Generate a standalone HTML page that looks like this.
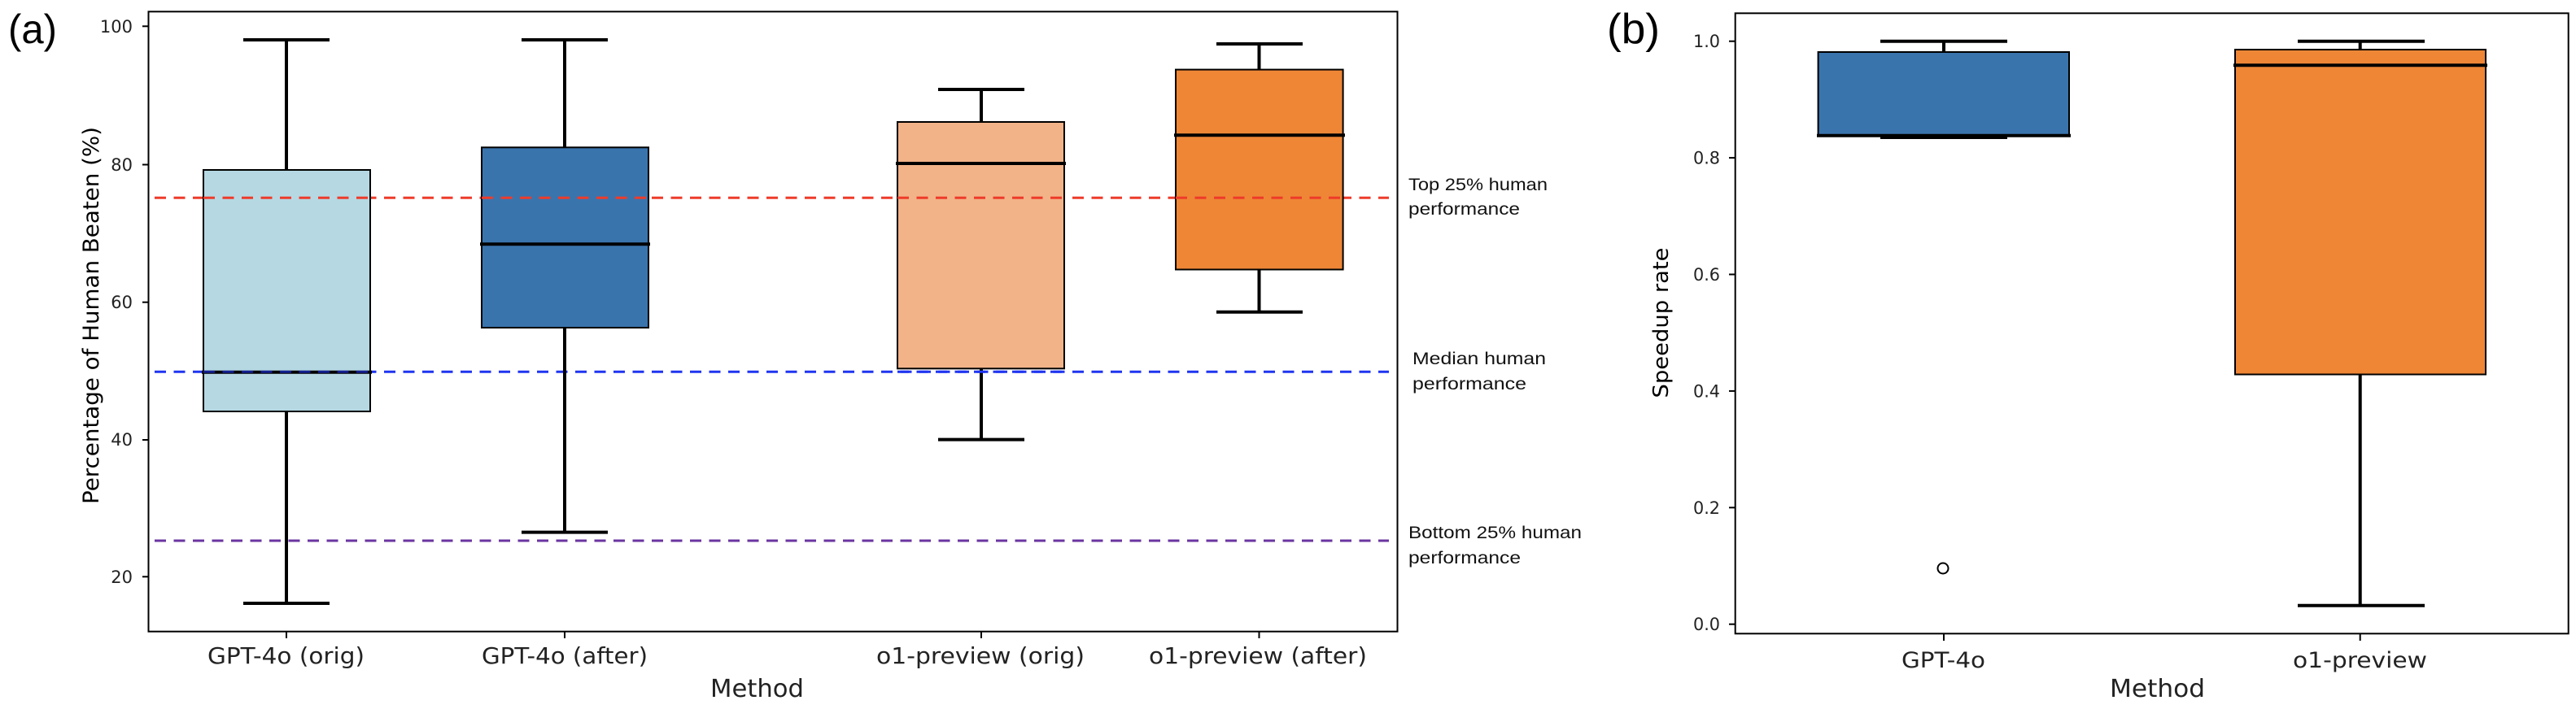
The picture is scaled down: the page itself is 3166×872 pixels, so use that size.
<!DOCTYPE html>
<html><head><meta charset="utf-8"><style>html,body{margin:0;padding:0;background:#fff;}svg{display:block}</style></head>
<body>
<svg width="3166" height="872" viewBox="0 0 3166 872" xmlns="http://www.w3.org/2000/svg" font-family="'DejaVu Sans','Liberation Sans',sans-serif">
<rect width="3166" height="872" fill="#fff"/>
<!-- Panel a -->
<text x="10" y="53" font-family="'Liberation Sans',sans-serif" font-size="50" textLength="60" lengthAdjust="spacingAndGlyphs">(a)</text>
<!-- dashed lines -->
<g stroke-width="3" stroke-dasharray="14,9.5" fill="none">
<line x1="190" y1="243.3" x2="1707" y2="243.3" stroke="#ee3b2a"/>
<line x1="190" y1="457.2" x2="1707" y2="457.2" stroke="#1f35f0"/>
<line x1="190" y1="665" x2="1707" y2="665" stroke="#6a35a0"/>
</g>
<!-- boxes -->
<g stroke="#000">
<line x1="352" y1="49" x2="352" y2="209" stroke-width="4"/>
<line x1="352" y1="506" x2="352" y2="742" stroke-width="4"/>
<line x1="299" y1="49" x2="405" y2="49" stroke-width="4"/>
<line x1="299" y1="742" x2="405" y2="742" stroke-width="4"/>
<rect x="250" y="209" width="205" height="297" fill="#b6d8e3" stroke-width="2"/>
<line x1="248" y1="457.7" x2="457" y2="457.7" stroke-width="4"/>

<line x1="694" y1="49" x2="694" y2="181.3" stroke-width="4"/>
<line x1="694" y1="403" x2="694" y2="654.6" stroke-width="4"/>
<line x1="641" y1="49" x2="747" y2="49" stroke-width="4"/>
<line x1="641" y1="654.6" x2="747" y2="654.6" stroke-width="4"/>
<rect x="592" y="181.3" width="205" height="221.7" fill="#3a74ad" stroke-width="2"/>
<line x1="590" y1="300.3" x2="799" y2="300.3" stroke-width="4"/>

<line x1="1206" y1="110" x2="1206" y2="150" stroke-width="4"/>
<line x1="1206" y1="453.3" x2="1206" y2="540.6" stroke-width="4"/>
<line x1="1153" y1="110" x2="1259" y2="110" stroke-width="4"/>
<line x1="1153" y1="540.6" x2="1259" y2="540.6" stroke-width="4"/>
<rect x="1103" y="150" width="205" height="303.3" fill="#f2b388" stroke-width="2"/>
<line x1="1101" y1="201" x2="1310" y2="201" stroke-width="4"/>

<line x1="1547.5" y1="54" x2="1547.5" y2="85.6" stroke-width="4"/>
<line x1="1547.5" y1="331.5" x2="1547.5" y2="383.8" stroke-width="4"/>
<line x1="1495" y1="54" x2="1601" y2="54" stroke-width="4"/>
<line x1="1495" y1="383.8" x2="1601" y2="383.8" stroke-width="4"/>
<rect x="1445" y="85.6" width="205.6" height="245.9" fill="#ee8636" stroke-width="2"/>
<line x1="1443" y1="166.3" x2="1653" y2="166.3" stroke-width="4"/>
</g>
<!-- red over box1? dashes drawn under boxes except where visible; redraw blue over box1 median as in ref -->
<line x1="250" y1="457.2" x2="455" y2="457.2" stroke="#1f35f0" stroke-width="3" stroke-dasharray="14,9.5" stroke-dashoffset="0" opacity="0.6"/>
<line x1="250" y1="243.3" x2="455" y2="243.3" stroke="#ee3b2a" stroke-width="3" stroke-dasharray="14,9.5"/>
<line x1="592" y1="243.3" x2="797" y2="243.3" stroke="#ee3b2a" stroke-width="3" stroke-dasharray="14,9.5"/>
<line x1="1103" y1="243.3" x2="1308" y2="243.3" stroke="#ee3b2a" stroke-width="3" stroke-dasharray="14,9.5"/>
<line x1="1445" y1="243.3" x2="1650" y2="243.3" stroke="#ee3b2a" stroke-width="3" stroke-dasharray="14,9.5"/>
<line x1="1103" y1="457.2" x2="1308" y2="457.2" stroke="#1f35f0" stroke-width="3" stroke-dasharray="14,9.5"/>
<!-- axes a -->
<rect x="182.5" y="14.3" width="1535" height="762.4" fill="none" stroke="#000" stroke-width="2"/>
<g stroke="#000" stroke-width="2">
<line x1="175" y1="32.3" x2="182" y2="32.3"/><line x1="175" y1="202.5" x2="182" y2="202.5"/><line x1="175" y1="371.7" x2="182" y2="371.7"/><line x1="175" y1="541" x2="182" y2="541"/><line x1="175" y1="709.3" x2="182" y2="709.3"/>
<line x1="352" y1="777" x2="352" y2="785"/><line x1="694" y1="777" x2="694" y2="785"/><line x1="1206" y1="777" x2="1206" y2="785"/><line x1="1547.5" y1="777" x2="1547.5" y2="785"/>
</g>
<g font-size="21" fill="#222" text-anchor="end">
<text x="163" y="40">100</text><text x="163" y="210">80</text><text x="163" y="379">60</text><text x="163" y="548">40</text><text x="163" y="717">20</text>
</g>
<text transform="translate(121,388) rotate(-90)" text-anchor="middle" font-size="27" textLength="464" lengthAdjust="spacingAndGlyphs">Percentage of Human Beaten (%)</text>
<g font-size="28" fill="#222">
<text x="255" y="816" textLength="193" lengthAdjust="spacingAndGlyphs">GPT-4o (orig)</text>
<text x="592" y="816" textLength="204" lengthAdjust="spacingAndGlyphs">GPT-4o (after)</text>
<text x="1077" y="816" textLength="256" lengthAdjust="spacingAndGlyphs">o1-preview (orig)</text>
<text x="1412" y="816" textLength="268" lengthAdjust="spacingAndGlyphs">o1-preview (after)</text>
<text x="873" y="857" font-size="30" textLength="115" lengthAdjust="spacingAndGlyphs">Method</text>
</g>
<g font-family="'Liberation Sans',sans-serif" font-size="21" fill="#111">
<text x="1731" y="234" textLength="171" lengthAdjust="spacingAndGlyphs">Top 25% human</text>
<text x="1731" y="264" textLength="137" lengthAdjust="spacingAndGlyphs">performance</text>
<text x="1736" y="448" textLength="164" lengthAdjust="spacingAndGlyphs">Median human</text>
<text x="1736" y="479" textLength="140" lengthAdjust="spacingAndGlyphs">performance</text>
<text x="1731" y="662" textLength="213" lengthAdjust="spacingAndGlyphs">Bottom 25% human</text>
<text x="1731" y="693" textLength="138" lengthAdjust="spacingAndGlyphs">performance</text>
</g>

<!-- Panel b -->
<text x="1975" y="53" font-family="'Liberation Sans',sans-serif" font-size="52" textLength="65" lengthAdjust="spacingAndGlyphs">(b)</text>
<g stroke="#000">
<line x1="2389" y1="50.7" x2="2389" y2="64" stroke-width="4"/>
<line x1="2311" y1="50.7" x2="2467" y2="50.7" stroke-width="4"/>
<line x1="2311" y1="169" x2="2467" y2="169" stroke-width="4"/>
<rect x="2234.6" y="64" width="308.4" height="102.7" fill="#3a74ad" stroke-width="2"/>
<line x1="2233" y1="166.7" x2="2545" y2="166.7" stroke-width="4"/>
<circle cx="2388" cy="699" r="6.5" fill="none" stroke-width="2"/>

<line x1="2900.7" y1="50.7" x2="2900.7" y2="61" stroke-width="4"/>
<line x1="2900.7" y1="460.5" x2="2900.7" y2="744.7" stroke-width="4"/>
<line x1="2824" y1="50.7" x2="2980" y2="50.7" stroke-width="4"/>
<line x1="2824" y1="744.7" x2="2980" y2="744.7" stroke-width="4"/>
<rect x="2747" y="61" width="308" height="399.5" fill="#ee8636" stroke-width="2"/>
<line x1="2745" y1="80.3" x2="3057" y2="80.3" stroke-width="4"/>
</g>
<rect x="2132.7" y="16.3" width="1024" height="763" fill="none" stroke="#000" stroke-width="2"/>
<g stroke="#000" stroke-width="2">
<line x1="2125" y1="50.7" x2="2132" y2="50.7"/><line x1="2125" y1="194.1" x2="2132" y2="194.1"/><line x1="2125" y1="337.5" x2="2132" y2="337.5"/><line x1="2125" y1="480.9" x2="2132" y2="480.9"/><line x1="2125" y1="624.3" x2="2132" y2="624.3"/><line x1="2125" y1="767.7" x2="2132" y2="767.7"/>
<line x1="2389" y1="780" x2="2389" y2="788"/><line x1="2900.7" y1="780" x2="2900.7" y2="788"/>
</g>
<g font-size="21" fill="#222" text-anchor="end">
<text x="2114" y="58" textLength="33" lengthAdjust="spacingAndGlyphs">1.0</text>
<text x="2114" y="201.5" textLength="33" lengthAdjust="spacingAndGlyphs">0.8</text>
<text x="2114" y="345" textLength="33" lengthAdjust="spacingAndGlyphs">0.6</text>
<text x="2114" y="488.5" textLength="33" lengthAdjust="spacingAndGlyphs">0.4</text>
<text x="2114" y="632" textLength="33" lengthAdjust="spacingAndGlyphs">0.2</text>
<text x="2114" y="775" textLength="33" lengthAdjust="spacingAndGlyphs">0.0</text>
</g>
<text transform="translate(2050,397) rotate(-90)" text-anchor="middle" font-size="26" textLength="185" lengthAdjust="spacingAndGlyphs">Speedup rate</text>
<g font-size="27" fill="#222">
<text x="2337" y="821" textLength="103" lengthAdjust="spacingAndGlyphs">GPT-4o</text>
<text x="2818" y="821" textLength="165" lengthAdjust="spacingAndGlyphs">o1-preview</text>
<text x="2593" y="857" font-size="30" textLength="117" lengthAdjust="spacingAndGlyphs">Method</text>
</g>
</svg>
</body></html>
